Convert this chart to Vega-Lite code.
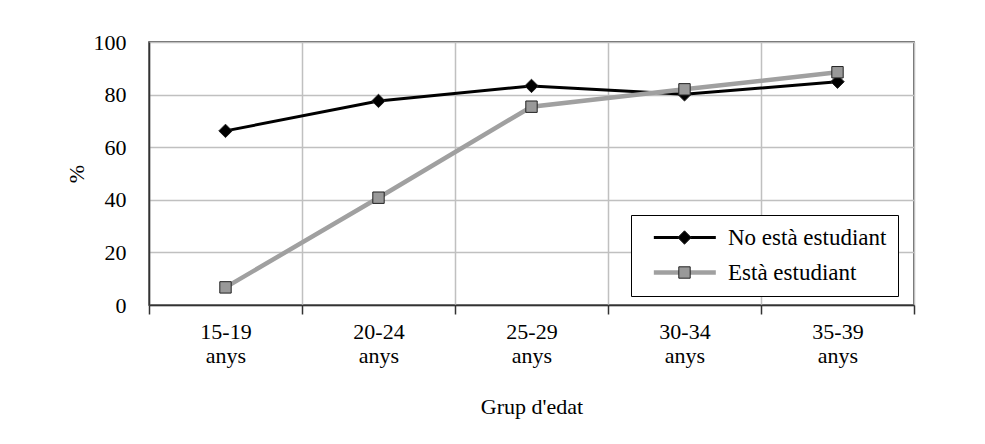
{
  "$schema": "https://vega.github.io/schema/vega-lite/v6.json",
  "width": 765,
  "height": 263,
  "autosize": {"type": "none"},
  "padding": {"left": 149, "top": 42, "right": 71, "bottom": 139},
  "background": "white",
  "config": {
    "font": "Liberation Serif",
    "view": {"stroke": "#333333", "strokeWidth": 1.5}
  },
  "data": {
    "values": [
      {"grup": "15-19 anys", "serie": "No està estudiant", "valor": 66.2},
      {"grup": "20-24 anys", "serie": "No està estudiant", "valor": 77.6},
      {"grup": "25-29 anys", "serie": "No està estudiant", "valor": 83.3},
      {"grup": "30-34 anys", "serie": "No està estudiant", "valor": 80.1},
      {"grup": "35-39 anys", "serie": "No està estudiant", "valor": 84.9},
      {"grup": "15-19 anys", "serie": "Està estudiant", "valor": 6.7},
      {"grup": "20-24 anys", "serie": "Està estudiant", "valor": 40.8},
      {"grup": "25-29 anys", "serie": "Està estudiant", "valor": 75.4},
      {"grup": "30-34 anys", "serie": "Està estudiant", "valor": 82.0},
      {"grup": "35-39 anys", "serie": "Està estudiant", "valor": 88.5}
    ]
  },
  "encoding": {
    "x": {
      "field": "grup",
      "type": "nominal",
      "sort": null,
      "scale": {"type": "band", "paddingInner": 0, "paddingOuter": 0},
      "title": "Grup d'edat",
      "axis": {
        "tickBand": "extent",
        "grid": true,
        "gridColor": "#c0c0c0",
        "gridWidth": 1.5,
        "domainColor": "#333333",
        "domainWidth": 1.5,
        "tickColor": "#333333",
        "tickSize": 9,
        "tickWidth": 1.5,
        "labelAngle": 0,
        "labelFontSize": 22,
        "labelColor": "#000000",
        "labelPadding": 7,
        "labelLineHeight": 24,
        "labelBaseline": "top",
        "labelExpr": "split(datum.label, ' ')",
        "titleFontSize": 22,
        "titleFontWeight": "normal",
        "titleColor": "#000000",
        "titlePadding": 30
      }
    },
    "y": {
      "field": "valor",
      "type": "quantitative",
      "scale": {"domain": [0, 100], "nice": false},
      "title": "%",
      "axis": {
        "values": [0, 20, 40, 60, 80, 100],
        "grid": true,
        "gridColor": "#c0c0c0",
        "gridWidth": 1.5,
        "ticks": false,
        "domainColor": "#333333",
        "domainWidth": 1.5,
        "labelFontSize": 22,
        "labelColor": "#000000",
        "labelPadding": 23,
        "titleFontSize": 22,
        "titleFontWeight": "normal",
        "titleColor": "#000000",
        "titlePadding": 5
      }
    }
  },
  "layer": [
    {
      "mark": {"type": "line", "strokeCap": "butt", "strokeJoin": "miter"},
      "encoding": {
        "stroke": {
          "field": "serie",
          "type": "nominal",
          "scale": {"domain": ["No està estudiant", "Està estudiant"], "range": ["#000000", "#a0a0a0"]},
          "legend": {
            "orient": "none",
            "legendX": 482,
            "legendY": 173,
            "title": null,
            "labelFontSize": 23,
            "labelColor": "#000000",
            "strokeColor": "#000000",
            "fillColor": "#ffffff",
            "padding": 11,
            "symbolType": "M0.05,0H9.29",
            "symbolSize": 180,
            "symbolStrokeWidth": 3.5,
            "labelOffset": 63,
            "rowPadding": 11,
            "encode": {
              "symbols": {
                "update": {
                  "strokeWidth": {"signal": "datum.value === 'No està estudiant' ? 3 : 4.5"}
                }
              }
            }
          }
        },
        "strokeWidth": {
          "field": "serie",
          "type": "nominal",
          "scale": {"domain": ["No està estudiant", "Està estudiant"], "range": [3, 4.5]},
          "legend": null
        }
      }
    },
    {
      "mark": {"type": "point", "filled": true, "stroke": "#222222", "strokeWidth": 1, "opacity": 1},
      "encoding": {
        "shape": {
          "field": "serie",
          "type": "nominal",
          "sort": "descending",
          "scale": {"range": ["diamond", "square"]},
          "legend": {
            "orient": "none",
            "legendX": 513,
            "legendY": 173,
            "title": null,
            "labelFontSize": 23,
            "labelOpacity": 0,
            "padding": 11,
            "labelOffset": 32,
            "rowPadding": 11,
            "symbolStrokeColor": "#222222",
            "symbolStrokeWidth": 1,
            "symbolOpacity": 1
          }
        },
        "fill": {
          "field": "serie",
          "type": "nominal",
          "sort": "descending",
          "scale": {"range": ["#000000", "#999999"]}
        },
        "size": {
          "field": "serie",
          "type": "nominal",
          "sort": "descending",
          "scale": {"range": [180, 130]}
        }
      }
    }
  ]
}
